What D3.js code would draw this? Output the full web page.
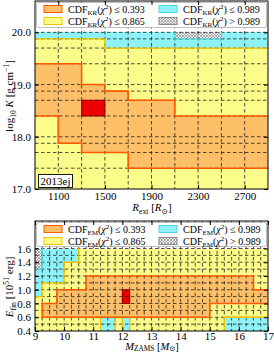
<!DOCTYPE html>
<html>
<head>
<meta charset="utf-8">
<script src="https://cdn.jsdelivr.net/npm/d3@7"></script>
<style>
body { margin: 0; background: #fff; }
text { font-family: "Liberation Serif", "DejaVu Serif", serif; }
</style>
</head>
<body>
<script>
// ---- data: top panel (K-R grid, SN 2013ej) ----
var rExtEdges = [900, 1100, 1300, 1500, 1700, 1900, 2100, 2300, 2500, 2700, 2900];
var logKEdges = [17.0, 17.398, 17.699, 17.875, 18.0, 18.398, 18.699, 18.875, 19.0, 19.398, 19.699, 19.875, 20.0];
// one string per K row, top row first; R = best fit, O <= 0.393, Y <= 0.865, C <= 0.989, H > 0.989
var cdfKR = [
  'CCCCCCHHCC',
  'YYYCCCCCCC',
  'YYYYYYYYYY',
  'OOYYYYYYYY',
  'OOOYYYYYYY',
  'OOOOYYYYYY',
  'OOROOOYYYY',
  'YOOOOOOOOO',
  'YOOOOOOOOO',
  'YYOOOOOOOO',
  'YYYYOOOOOO',
  'YYYYYYYYYY'
];
var rExtTicks = [1100, 1500, 1900, 2300, 2700];
var logKTicks = [17, 18, 19, 20];

// ---- data: bottom panel (E-M grid) ----
var mZamsEdges = [9, 9.25, 9.5, 9.75, 10, 10.25, 10.5, 10.75, 11, 11.25, 11.5, 11.75, 12, 12.25, 12.5, 12.75,
  13, 13.25, 13.5, 13.75, 14, 14.25, 14.5, 14.75, 15, 15.25, 15.5, 15.75, 16, 16.25, 16.5, 16.75, 17];
var eFinEdges = [0.4, 0.5, 0.6, 0.7, 0.8, 0.9, 1.0, 1.1, 1.2, 1.3, 1.4, 1.5, 1.6];
// one string per energy row, top row first, grouped by 1 Msun
var cdfEM = [
  'HCCC CCYY YYYY YYYY YYYY YYYY YYYY YYYY',
  'HCCC CCYY YYYY YYYY YYYY YYYY YYYY YYYY',
  'HCCC YYYY YYYY YYYY YYYY YYYY YYYY YYYY',
  'CCCC YYYY YYYY YYYY YYYY YYYY YYYY YYYY',
  'CCCC YYYO OOOO OOOO OOOO OOOO OOOO OOYY',
  'CYYY YYYO OOOO OOOO OOOO OOOO OOOO OOYY',
  'CYYO OOOO OOOO ROOO OOOO OOOO OOOO OOOO',
  'YYYO OOOO OOOO ROOO OOOO OOOO OOOO OOOO',
  'YOOO OOOO OOOO OOOO OOOO OOOO YYYY YYYY',
  'YOOO OOOO OOOO OOOO OOOO OOOO YYYY YYYY',
  'YYYY YYYY YCCY CYYY YYYY YYYY YYCC CCCC',
  'YYYY YYYY YCCY CYYY YYYY YYYY YYCC CCCC'
];
var mZamsTicks = [9, 10, 11, 12, 13, 14, 15, 16, 17];
var eFinTicks = [0.4, 0.6, 0.8, 1.0, 1.2, 1.4, 1.6];

var legendCodes = ['O', 'Y', 'C', 'H'];
var legendOps = ['\u2264', '\u2264', '\u2264', '>'];
var legendVals = ['0.393', '0.865', '0.989', '0.989'];

var W = 274, H = 353;
var L = 35, R = 268;

var fills = { R: '#ee0000', O: '#fdc068', Y: '#fcfc8a', C: '#8ef3f8', H: 'url(#hatch)' };
var edges = { R: '#990000', O: '#ff5a00', Y: '#f0c400', C: '#4fd6de', H: '#888' };

var svg = d3.select('body').append('svg')
  .attr('width', W)
  .attr('height', H);

var defs = svg.append('defs');
var pat = defs.append('pattern')
  .attr('id', 'hatch')
  .attr('patternUnits', 'userSpaceOnUse')
  .attr('width', 3)
  .attr('height', 3);
pat.append('rect').attr('width', 3).attr('height', 3).attr('fill', '#f4f4f4');
pat.append('path').attr('d', 'M0,0L3,3M3,0L0,3').attr('stroke', '#8a8a8a').attr('stroke-width', 0.7);

// text with italic / sub / sup pieces
function rich(t, parts, fs, subShift) {
  var shift = 0;
  var sb = subShift || 0.28;
  parts.forEach(function (p) {
    var s = p[1] || '';
    var target = s.indexOf('b') >= 0 ? fs * sb : s.indexOf('p') >= 0 ? -fs * 0.38 : 0;
    var ts = t.append('tspan').text(p[0]).attr('dy', target - shift);
    shift = target;
    if (target) ts.attr('font-size', fs * 0.7);
    if (s.indexOf('i') >= 0) ts.attr('font-style', 'italic');
  });
}

function panel(cfg) {
  var x = d3.scaleLinear().domain(cfg.xDom).range([L, R]);
  var y = d3.scaleLinear().domain(cfg.yDom).range([cfg.bottom, cfg.top]);
  var xe = cfg.xEdges, ye = cfg.yEdges;
  var nR = cfg.rows.length, nC = xe.length - 1;

  // grid[k][j], k counted from the bottom row
  var grid = cfg.rows.slice().reverse().map(function (r) { return r.replace(/ /g, '').split(''); });
  var cells = [];
  grid.forEach(function (row, k) {
    row.forEach(function (c, j) { cells.push({ k: k, j: j, code: c }); });
  });

  var clipId = 'clip' + cfg.id;
  defs.append('clipPath').attr('id', clipId)
    .append('rect')
    .attr('x', L).attr('y', cfg.top)
    .attr('width', R - L).attr('height', cfg.bottom - cfg.top);

  var g = svg.append('g').attr('clip-path', 'url(#' + clipId + ')');

  g.selectAll('rect.cell')
    .data(cells)
    .join('rect')
    .attr('class', 'cell')
    .attr('x', function (d) { return x(xe[d.j]); })
    .attr('y', function (d) { return y(ye[d.k + 1]); })
    .attr('width', function (d) { return x(xe[d.j + 1]) - x(xe[d.j]); })
    .attr('height', function (d) { return y(ye[d.k]) - y(ye[d.k + 1]); })
    .attr('fill', function (d) { return fills[d.code]; })
    .attr('shape-rendering', 'crispEdges');

  // dashed grid on cell edges
  g.selectAll('line.vx')
    .data(xe.slice(1, -1))
    .join('line')
    .attr('x1', function (d) { return x(d); })
    .attr('x2', function (d) { return x(d); })
    .attr('y1', cfg.top)
    .attr('y2', cfg.bottom);
  g.selectAll('line.hy')
    .data(ye.slice(1))
    .join('line')
    .attr('x1', L)
    .attr('x2', R)
    .attr('y1', function (d) { return y(d); })
    .attr('y2', function (d) { return y(d); });
  g.selectAll('line')
    .attr('stroke', '#222')
    .attr('stroke-width', 0.8)
    .attr('stroke-dasharray', '3.5,2.5');

  // region outlines
  function outline(set, color, sw) {
    var inG = function (k, j) { return set.indexOf(grid[k][j]) >= 0; };
    var p = d3.path();
    for (var k = 0; k < nR; k++) {
      for (var j = 0; j < nC; j++) {
        if (!inG(k, j)) continue;
        if (j > 0 && !inG(k, j - 1)) { p.moveTo(x(xe[j]), y(ye[k])); p.lineTo(x(xe[j]), y(ye[k + 1])); }
        if (j < nC - 1 && !inG(k, j + 1)) { p.moveTo(x(xe[j + 1]), y(ye[k])); p.lineTo(x(xe[j + 1]), y(ye[k + 1])); }
        if (k > 0 && !inG(k - 1, j)) { p.moveTo(x(xe[j]), y(ye[k])); p.lineTo(x(xe[j + 1]), y(ye[k])); }
        if (k < nR - 1 && !inG(k + 1, j)) { p.moveTo(x(xe[j]), y(ye[k + 1])); p.lineTo(x(xe[j + 1]), y(ye[k + 1])); }
      }
    }
    g.append('path')
      .attr('d', p.toString())
      .attr('fill', 'none')
      .attr('stroke', color)
      .attr('stroke-width', sw)
      .attr('stroke-linecap', 'square');
  }
  outline(['R', 'O', 'Y', 'C'], edges.C, 1.2);
  outline(['R', 'O', 'Y'], edges.Y, 1.3);
  outline(['R', 'O'], edges.O, 1.6);
  outline(['R'], edges.R, 1);

  // legend
  var lg = svg.append('g');
  lg.append('rect')
    .attr('x', L + 1.5).attr('y', cfg.top + 1.5)
    .attr('width', R - L - 3).attr('height', cfg.legH)
    .attr('rx', 1.5)
    .attr('fill', '#fff')
    .attr('stroke', '#b0b0b0')
    .attr('stroke-width', 0.8);
  legendCodes.forEach(function (c, i) {
    var col = Math.floor(i / 2), row = i % 2;
    var px = col ? 159 : 44;
    var py = cfg.top + 8 + row * 12;
    lg.append('rect')
      .attr('x', px).attr('y', py - 3.5)
      .attr('width', 18).attr('height', 7)
      .attr('fill', fills[c])
      .attr('stroke', edges[c])
      .attr('stroke-width', 1);
    var t = lg.append('text')
      .attr('x', px + 24).attr('y', py + 3.5)
      .attr('font-size', 10);
    rich(t, [['CDF'], [cfg.sub, 'b'], ['('], ['\u03c7', 'i'], ['2', 'p'], [')'],
      [' ' + legendOps[i] + ' ' + legendVals[i]]], 10);
  });

  // frame
  svg.append('rect')
    .attr('x', L).attr('y', cfg.top)
    .attr('width', R - L).attr('height', cfg.bottom - cfg.top)
    .attr('fill', 'none')
    .attr('stroke', '#000')
    .attr('stroke-width', 1);

  // axes with inward ticks
  var ax = [
    svg.append('g').attr('transform', 'translate(0,' + cfg.bottom + ')')
      .call(d3.axisBottom(x).tickValues(cfg.xTicks).tickSize(-4).tickPadding(cfg.xPad).tickFormat(cfg.xFmt)),
    svg.append('g').attr('transform', 'translate(' + L + ',0)')
      .call(d3.axisLeft(y).tickValues(cfg.yTicks).tickSize(-4).tickPadding(4).tickFormat(d3.format('.1f'))),
    svg.append('g').attr('transform', 'translate(0,' + cfg.top + ')')
      .call(d3.axisTop(x).tickValues(cfg.xTicks).tickSize(-4).tickFormat('')),
    svg.append('g').attr('transform', 'translate(' + R + ',0)')
      .call(d3.axisRight(y).tickValues(cfg.yTicks).tickSize(-4).tickFormat(''))
  ];
  ax.forEach(function (a) {
    a.select('.domain').remove();
    a.selectAll('text').attr('font-family', null).attr('font-size', 11).attr('fill', '#000');
  });

  return { x: x, y: y };
}

var top = panel({
  id: 'kr',
  xDom: [900, 2900], yDom: [17, 20.6],
  top: 1, bottom: 189, legH: 25,
  xEdges: rExtEdges, yEdges: logKEdges, rows: cdfKR,
  xTicks: rExtTicks, yTicks: logKTicks, xFmt: d3.format('d'), xPad: 3,
  sub: 'KR'
});

var bot = panel({
  id: 'em',
  xDom: [9, 17], yDom: [0.4, 2.0],
  top: 221, bottom: 331, legH: 24,
  xEdges: mZamsEdges, yEdges: eFinEdges, rows: cdfEM,
  xTicks: mZamsTicks, yTicks: eFinTicks, xFmt: d3.format('d'), xPad: 1,
  sub: 'EM'
});

// SN label box
svg.append('rect')
  .attr('x', 38.5).attr('y', 174.5)
  .attr('width', 34).attr('height', 13)
  .attr('fill', '#fff')
  .attr('stroke', '#000')
  .attr('stroke-width', 0.9);
svg.append('text')
  .attr('x', 55.5).attr('y', 185)
  .attr('text-anchor', 'middle')
  .attr('font-size', 11)
  .text('2013ej');

// axis titles
var t1 = svg.append('text').attr('text-anchor', 'middle').attr('font-size', 11)
  .attr('transform', 'translate(13,96) rotate(-90)');
rich(t1, [['log'], ['10', 'b'], [' '], ['K', 'i'], [' [g cm'], ['\u22121', 'p'], [']']], 11);

var t2 = svg.append('text').attr('text-anchor', 'middle').attr('font-size', 11)
  .attr('x', 152).attr('y', 211);
rich(t2, [['R', 'i'], ['ext', 'b'], [' ['], ['R', 'i'], ['\u2299', 'b'], [']']], 11);

var t3 = svg.append('text').attr('text-anchor', 'middle').attr('font-size', 11)
  .attr('transform', 'translate(13,287) rotate(-90)');
rich(t3, [['E', 'i'], ['fin', 'b'], [' [10'], ['51', 'p'], [' erg]']], 11);

var t4 = svg.append('text').attr('text-anchor', 'middle').attr('font-size', 10.5)
  .attr('x', 152).attr('y', 349.5);
rich(t4, [['M', 'i'], ['ZAMS', 'b'], [' ['], ['M', 'i'], ['\u2299', 'b'], [']']], 10.5, 0.15);
</script>
</body>
</html>
